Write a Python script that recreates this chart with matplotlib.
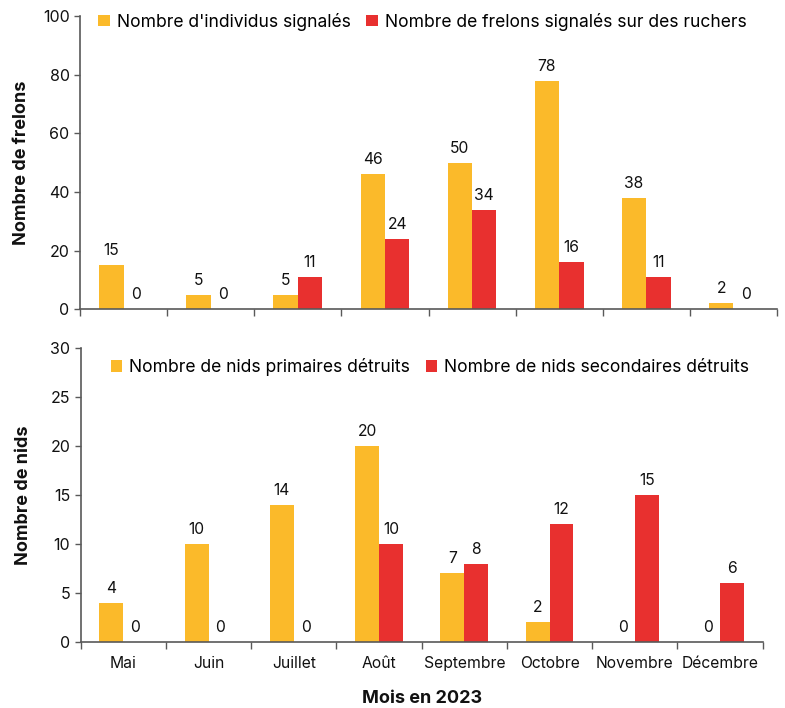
import matplotlib
matplotlib.use("Agg")
import matplotlib.pyplot as plt
import numpy as np

plt.rcParams['font.family'] = ['Inter', 'DejaVu Sans']

months = ["Mai", "Juin", "Juillet", "Août", "Septembre", "Octobre", "Novembre", "Décembre"]
individus = [15, 5, 5, 46, 50, 78, 38, 2]
ruchers = [0, 0, 11, 24, 34, 16, 11, 0]
nids_primaires = [4, 10, 14, 20, 7, 2, 0, 0]
nids_secondaires = [0, 0, 0, 10, 8, 12, 15, 6]

YELLOW = "#FBBA2A"
RED = "#E8302F"
SPINE = "#595959"
TXT = "#111111"

fig = plt.figure(figsize=(7.85, 7.08), dpi=100)
ax1 = fig.add_axes([80/785, 1-309.3/708, 697/785, 293.3/708])
ax2 = fig.add_axes([80.7/785, 1-642/708, 682/785, 294/708])

x = np.arange(len(months))
w = 0.28

def style(ax, ymax, step, labels):
    ax.set_xlim(-0.5, len(months)-0.5)
    ax.set_ylim(0, ymax)
    ax.set_yticks(np.arange(0, ymax+1, step))
    for s in ["top", "right"]:
        ax.spines[s].set_visible(False)
    for s in ["left", "bottom"]:
        ax.spines[s].set_color(SPINE)
        ax.spines[s].set_linewidth(1.2)
    ax.tick_params(axis='y', colors=SPINE, labelcolor=TXT, labelsize=11.5, length=4, width=1, direction='out')
    ax.set_xticks(x)
    if labels:
        ax.set_xticklabels(months, fontsize=11.3, color=TXT)
    else:
        ax.set_xticklabels([])
    ax.tick_params(axis='x', which='major', length=0, pad=10)
    ax.set_xticks(np.arange(-0.5, len(months)), minor=True)
    ax.tick_params(axis='x', which='minor', length=5, width=1, color=SPINE, direction='out')

def annotate(ax, bars, vals):
    for b, v in zip(bars, vals):
        ax.annotate(str(v), (b.get_x()+b.get_width()/2, v), xytext=(0, 5),
                    textcoords='offset points', ha='center', va='bottom',
                    fontsize=11.3, color=TXT)

legend_kw = dict(loc='upper left', ncol=2, frameon=False, fontsize=12.6,
                 handlelength=0.65, handleheight=0.65, handletextpad=0.4,
                 columnspacing=0.9, borderaxespad=0)

b1 = ax1.bar(x-w/2, individus, w, color=YELLOW, label="Nombre d'individus signalés")
b2 = ax1.bar(x+w/2, ruchers, w, color=RED, label="Nombre de frelons signalés sur des ruchers")
annotate(ax1, b1, individus)
annotate(ax1, b2, ruchers)
style(ax1, 100, 20, False)
ax1.set_ylabel("Nombre de frelons", fontsize=13, fontweight='bold', color=TXT, labelpad=9)
ax1.legend(bbox_to_anchor=(0.016, 1.035), **legend_kw)

b3 = ax2.bar(x-w/2, nids_primaires, w, color=YELLOW, label="Nombre de nids primaires détruits")
b4 = ax2.bar(x+w/2, nids_secondaires, w, color=RED, label="Nombre de nids secondaires détruits")
annotate(ax2, b3, nids_primaires)
annotate(ax2, b4, nids_secondaires)
style(ax2, 30, 5, True)
ax2.set_ylabel("Nombre de nids", fontsize=13, fontweight='bold', color=TXT, labelpad=13)
ax2.legend(bbox_to_anchor=(0.034, 0.99), **legend_kw)
ax2.set_xlabel("Mois en 2023", fontsize=13, fontweight='bold', color=TXT, labelpad=14)

fig.savefig("out.png", dpi=100)
